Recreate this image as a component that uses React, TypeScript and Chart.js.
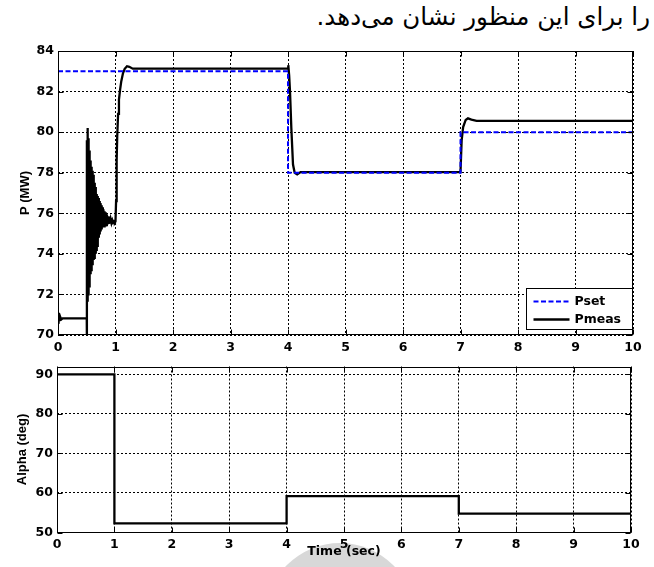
import React, { useEffect, useRef } from "react";
import { Chart, registerables } from "chart.js";

Chart.register(...registerables);

// ---------- data ----------
const timeTicks = [0, 1, 2, 3, 4, 5, 6, 7, 8, 9, 10];
const powerTicks = [70, 72, 74, 76, 78, 80, 82, 84];
const alphaTicks = [50, 60, 70, 80, 90];

const psetTime = [0, 4, 4, 7, 7, 10];
const psetValues = [83, 83, 78, 78, 80, 80];

// Pmeas samples: [time (s), power (MW)]
const pmeasSamples: [number, number][] = [
  [0, 70.8], [0.004, 71.1], [0.008, 70.55], [0.012, 71.0], [0.016, 70.62], [0.022, 70.95],
  [0.03, 70.7], [0.04, 70.88], [0.055, 70.76], [0.08, 70.82], [0.5, 70.82], [0.501, 69.8],
  [0.504, 79.6], [0.508, 71.7], [0.512, 80.2], [0.516, 71.8], [0.52, 80.0], [0.524, 72.0],
  [0.528, 79.7], [0.532, 72.2], [0.536, 79.4], [0.54, 72.4], [0.544, 79.1], [0.548, 72.6],
  [0.552, 78.8], [0.556, 72.8], [0.56, 78.6], [0.565, 73.0], [0.57, 78.4], [0.575, 73.2],
  [0.58, 78.3], [0.585, 73.4], [0.59, 78.2], [0.595, 73.5], [0.6, 78.1], [0.606, 73.6],
  [0.612, 77.9], [0.618, 73.7], [0.624, 77.7], [0.63, 73.8], [0.636, 77.5], [0.642, 73.9],
  [0.648, 77.3], [0.654, 74.0], [0.66, 77.1], [0.667, 74.2], [0.674, 76.95], [0.681, 74.4],
  [0.688, 76.85], [0.695, 74.6], [0.702, 76.75], [0.71, 74.8], [0.718, 76.6], [0.726, 74.95],
  [0.734, 76.5], [0.742, 75.1], [0.75, 76.4], [0.76, 75.2], [0.77, 76.3], [0.78, 75.3],
  [0.79, 76.2], [0.8, 75.35], [0.81, 76.1], [0.82, 75.4], [0.83, 76.05], [0.84, 75.42],
  [0.85, 75.95], [0.86, 75.45], [0.87, 75.85], [0.88, 75.48], [0.89, 75.8], [0.9, 75.5],
  [0.915, 75.72], [0.93, 75.52], [0.945, 75.66], [0.96, 75.54], [0.975, 75.6], [0.99, 75.55],
  [1.0, 75.6], [1.01, 76.6], [1.02, 78.6], [1.03, 79.8], [1.045, 80.9], [1.06, 81.6],
  [1.08, 82.1], [1.1, 82.5], [1.13, 82.9], [1.16, 83.12], [1.2, 83.25], [1.24, 83.22],
  [1.3, 83.13], [4.0, 83.13], [4.005, 83.3], [4.02, 82.8], [4.035, 82.0], [4.058, 80.2],
  [4.087, 78.4], [4.116, 78.0], [4.16, 77.92], [4.22, 78.03], [7.0, 78.03], [7.02, 79.6],
  [7.046, 80.25], [7.09, 80.6], [7.13, 80.68], [7.19, 80.62], [7.28, 80.56], [10, 80.56],
];

const alphaTime = [0, 1, 1, 4, 4, 7, 7, 10];
const alphaValues = [90, 90, 52.3, 52.3, 59.2, 59.2, 54.8, 54.8];

const captionText = "را برای این منظور نشان می\u200cدهد.";

// ---------- helpers ----------
const tickFont = { family: "'DejaVu Sans', sans-serif", weight: "bold" as const, size: 12.5 };
const titleFont = { family: "'Liberation Sans', Arial, sans-serif", weight: "bold" as const, size: 13 };

const framePlugin = {
  id: "matlabFrame",
  afterDatasetsDraw(chart: any) {
    const { ctx, chartArea: a, scales } = chart;
    ctx.save();
    ctx.strokeStyle = "#000";
    ctx.lineWidth = 1;
    ctx.setLineDash([]);
    const L = Math.round(a.left) + 0.5;
    const R = Math.round(a.right) - 0.5;
    const T = Math.round(a.top) + 0.5;
    const B = Math.round(a.bottom) - 0.5;
    ctx.strokeRect(L, T, R - L, B - T);
    const tl = 5;
    ctx.beginPath();
    scales.x.ticks.forEach((t: any) => {
      const px = Math.round(scales.x.getPixelForValue(t.value)) + 0.5;
      ctx.moveTo(px, B);
      ctx.lineTo(px, B - tl);
      ctx.moveTo(px, T);
      ctx.lineTo(px, T + tl);
    });
    scales.y.ticks.forEach((t: any) => {
      const py = Math.round(scales.y.getPixelForValue(t.value)) + 0.5;
      ctx.moveTo(L, py);
      ctx.lineTo(L + tl, py);
      ctx.moveTo(R, py);
      ctx.lineTo(R - tl, py);
    });
    ctx.stroke();
    ctx.restore();
  },
};

const boxLegendPlugin = {
  id: "boxLegend",
  afterDraw(chart: any) {
    const { ctx, chartArea: a } = chart;
    const w = 106;
    const h = 41;
    const right = Math.round(a.right) - 0.5;
    const bottom = Math.round(a.bottom) - 5.5;
    const left = right - w;
    const top = bottom - h;
    ctx.save();
    ctx.fillStyle = "#fff";
    ctx.fillRect(left, top, w, h);
    ctx.strokeStyle = "#000";
    ctx.lineWidth = 1;
    ctx.setLineDash([]);
    ctx.strokeRect(left, top, w, h);
    chart.data.datasets.forEach((ds: any, i: number) => {
      const y = top + 13 + i * 18;
      ctx.beginPath();
      ctx.strokeStyle = ds.borderColor;
      ctx.lineWidth = ds.borderWidth;
      ctx.setLineDash(ds.borderDash || []);
      ctx.moveTo(left + 7, y);
      ctx.lineTo(left + 43, y);
      ctx.stroke();
      ctx.setLineDash([]);
      ctx.fillStyle = "#000";
      ctx.font = "bold 12.5px 'DejaVu Sans', sans-serif";
      ctx.textBaseline = "middle";
      ctx.textAlign = "left";
      ctx.fillText(ds.label, left + 48, y);
    });
    ctx.restore();
  },
};

function makeScales(opts: {
  yMin: number;
  yMax: number;
  yTicks: number[];
  yTitle: string;
  yTitlePad: number;
  yWidth: number;
  xHeight: number;
  xTitle?: string;
}) {
  const grid = { color: "#000", lineWidth: 1, drawTicks: false };
  const border = { display: false, dash: [2, 2] };
  return {
    x: {
      type: "linear" as const,
      min: 0,
      max: 10,
      afterBuildTicks: (s: any) => {
        s.ticks = timeTicks.map((v) => ({ value: v }));
      },
      afterFit: (s: any) => {
        s.height = opts.xHeight;
      },
      grid,
      border,
      ticks: { padding: 5, color: "#000", font: tickFont, maxRotation: 0, autoSkip: false },
      title: opts.xTitle
        ? { display: true, text: opts.xTitle, color: "#000", font: tickFont, padding: { top: 0, bottom: 8 } }
        : { display: false },
    },
    y: {
      type: "linear" as const,
      min: opts.yMin,
      max: opts.yMax,
      afterBuildTicks: (s: any) => {
        s.ticks = opts.yTicks.map((v) => ({ value: v }));
      },
      afterFit: (s: any) => {
        s.width = opts.yWidth;
      },
      grid,
      border,
      ticks: { padding: 4, color: "#000", font: tickFont, autoSkip: false },
      title: { display: true, text: opts.yTitle, color: "#000", font: titleFont, padding: { top: opts.yTitlePad, bottom: 0 } },
    },
  };
}

export default function App() {
  const topRef = useRef<HTMLCanvasElement>(null);
  const botRef = useRef<HTMLCanvasElement>(null);

  useEffect(() => {
    if (!topRef.current || !botRef.current) return;

    const top = new Chart(topRef.current, {
      type: "scatter",
      data: {
        datasets: [
          {
            label: "Pset",
            data: psetTime.map((t, i) => ({ x: t, y: psetValues[i] })),
            showLine: true,
            borderColor: "#0000ff",
            borderWidth: 2,
            borderDash: [5, 2.5],
            pointRadius: 0,
            tension: 0,
            fill: false,
          },
          {
            label: "Pmeas",
            data: pmeasSamples.map(([t, v]) => ({ x: t, y: v })),
            showLine: true,
            borderColor: "#000000",
            borderWidth: 2.3,
            pointRadius: 0,
            tension: 0,
            fill: false,
          },
        ],
      },
      options: {
        responsive: false,
        animation: false,
        layout: { padding: { left: 0, right: 21, top: 15, bottom: 0 } },
        plugins: { legend: { display: false }, tooltip: { enabled: false } },
        scales: makeScales({
          yMin: 70,
          yMax: 84,
          yTicks: powerTicks,
          yTitle: "P (MW)",
          yTitlePad: 18,
          yWidth: 58,
          xHeight: 25,
        }) as any,
      },
      plugins: [framePlugin, boxLegendPlugin],
    });

    const bot = new Chart(botRef.current, {
      type: "scatter",
      data: {
        datasets: [
          {
            label: "Alpha",
            data: alphaTime.map((t, i) => ({ x: t, y: alphaValues[i] })),
            showLine: true,
            borderColor: "#000000",
            borderWidth: 2.3,
            pointRadius: 0,
            tension: 0,
            fill: false,
          },
        ],
      },
      options: {
        responsive: false,
        animation: false,
        layout: { padding: { left: 0, right: 23, top: 7.5, bottom: 0 } },
        plugins: { legend: { display: false }, tooltip: { enabled: false } },
        scales: makeScales({
          yMin: 50,
          yMax: 92,
          yTicks: alphaTicks,
          yTitle: "Alpha (deg)",
          yTitlePad: 15,
          yWidth: 57,
          xHeight: 34.5,
          xTitle: "Time (sec)",
        }) as any,
      },
      plugins: [framePlugin],
    });

    return () => {
      top.destroy();
      bot.destroy();
    };
  }, []);

  return (
    <div
      style={{
        position: "absolute",
        left: 0,
        top: 0,
        width: 654,
        height: 567,
        overflow: "hidden",
        background: "#fff",
      }}
    >
      <div
        style={{
          position: "absolute",
          left: 265,
          top: 543,
          width: 150,
          height: 150,
          borderRadius: "50%",
          background: "#d8d8d8",
        }}
      />
      <div
        dir="rtl"
        style={{
          position: "absolute",
          right: 4,
          top: 1,
          fontFamily: "'DejaVu Sans', sans-serif",
          fontSize: 24.5,
          lineHeight: "32px",
          color: "#000",
          whiteSpace: "nowrap",
        }}
      >
        {captionText}
      </div>
      <canvas
        ref={topRef}
        width={654}
        height={324}
        style={{ position: "absolute", left: 0, top: 36, width: 654, height: 324 }}
      />
      <canvas
        ref={botRef}
        width={654}
        height={212}
        style={{ position: "absolute", left: 0, top: 355, width: 654, height: 212 }}
      />
    </div>
  );
}
